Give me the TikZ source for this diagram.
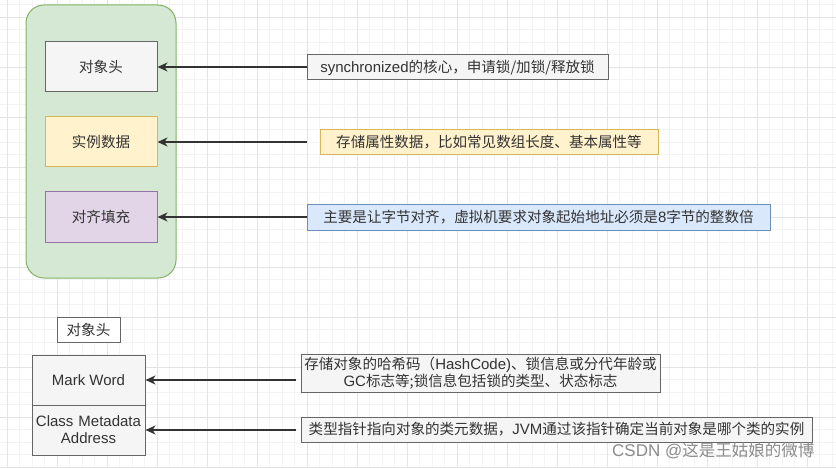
\documentclass[tikz,border=0pt]{standalone}
\usepackage{fontspec}
\setmainfont{Liberation Sans}
\newfontfamily\cjkfont[Scale=0.97]{Noto Sans CJK SC}
\newcommand{\zhs}[1]{{\cjkfont #1}}
\usetikzlibrary{arrows.meta}
\definecolor{gridminor}{HTML}{F3F3F3}
\definecolor{gridmajor}{HTML}{E4E4E4}
\definecolor{greyfill}{HTML}{F5F5F5}
\definecolor{greyline}{HTML}{666666}
\definecolor{greenfill}{HTML}{D5E8D4}
\definecolor{greenline}{HTML}{82B366}
\definecolor{yellowfill}{HTML}{FFF2CC}
\definecolor{yellowline}{HTML}{D6B656}
\definecolor{purplefill}{HTML}{E1D5E7}
\definecolor{purpleline}{HTML}{9673A6}
\definecolor{bluefill}{HTML}{DAE8FC}
\definecolor{blueline}{HTML}{6C8EBF}
\definecolor{txt}{HTML}{333333}
\tikzset{
  box/.style={draw, line width=1pt, rectangle, inner sep=0pt, text=txt,
    font=\fontsize{15}{18}\selectfont, align=center},
  greybox/.style={box, fill=greyfill, draw=greyline},
  yellowbox/.style={box, fill=yellowfill, draw=yellowline},
  purplebox/.style={box, fill=purplefill, draw=purpleline},
  bluebox/.style={box, fill=bluefill, draw=blueline},
  conn/.style={line width=1.3pt, draw=black!80, -{Stealth[length=10pt,width=9pt,inset=3pt]}},
}
\begin{document}
\begin{tikzpicture}[x=1pt,y=-1pt]
\useasboundingbox (0,0) rectangle (836,468);
\fill[white] (0,0) rectangle (836,468);
% grid
\foreach \i in {0,...,67} { \draw[gridminor, line width=0.8pt] ({-5.5+12.5*\i},0) -- ++(0,468); }
\foreach \j in {0,...,37} { \draw[gridminor, line width=0.8pt] (0,{4.5+12.5*\j}) -- ++(836,0); }
\foreach \i in {0,...,16} { \draw[gridmajor, line width=0.8pt] ({7+50*\i},0) -- ++(0,468); }
\foreach \j in {0,...,9} { \draw[gridmajor, line width=0.8pt] (0,{17+50*\j}) -- ++(836,0); }

% container
\node[draw=greenline, fill=greenfill, line width=1pt, rounded corners=18pt,
  minimum width=150pt, minimum height=273pt] (cont) at (101,141.5) {};

\node[greybox, minimum width=112pt, minimum height=50pt] (hdr) at (101,67) {\zhs{对象头}};
\node[yellowbox, minimum width=112pt, minimum height=50pt] (inst) at (101,142) {\zhs{实例数据}};
\node[purplebox, minimum width=112pt, minimum height=50pt] (pad) at (101,217) {\zhs{对齐填充}};

\node[greybox, minimum width=301pt, minimum height=25pt] (t1) at (457.5,67.5)
  {synchronized\zhs{的核心，申请锁/加锁/释放锁}};
\node[yellowbox, minimum width=338pt, minimum height=25pt] (t2) at (489,142.5)
  {\zhs{存储属性数据，比如常见数组长度、基本属性等}};
\node[bluebox, minimum width=463pt, minimum height=25pt] (t3) at (538.5,217.5)
  {\zhs{主要是让字节对齐，虚拟机要求对象起始地址必须是}8\zhs{字节的整数倍}};

\coordinate (s2) at (307,142);
\draw[conn] (t1.west |- hdr.east) -- (hdr.east);
\draw[conn] (s2) -- (inst.east);
\draw[conn] (t3.west |- pad.east) -- (pad.east);

% bottom part
\node[box, fill=white, draw=greyline, minimum width=63pt, minimum height=25pt] (lbl) at (88.5,329.5) {\zhs{对象头}};
\node[greybox, minimum width=113pt, minimum height=50pt] (mw) at (88.5,380) {Mark Word};
\node[greybox, minimum width=113pt, minimum height=50pt, text width=113pt] (cma) at (88.5,430) {Class Metadata\\[-1pt]Address};

\node[greybox, minimum width=359pt, minimum height=38pt, font=\fontsize{15}{17}\selectfont] (t4) at (480.5,373)
  {\zhs{存储对象的哈希码（}HashCode)\zhs{、锁信息或分代年龄或}\\GC\zhs{标志等;锁信息包括锁的类型、状态标志}};
\node[greybox, minimum width=511pt, minimum height=25pt] (t5) at (556.5,429.5)
  {\zhs{类型指针指向对象的类元数据，}JVM\zhs{通过该指针确定当前对象是哪个类的实例}};

\coordinate (s4) at (296,380);
\coordinate (s5) at (296,430);
\draw[conn] (s4) -- (mw.east);
\draw[conn] (s5) -- (cma.east);

\node[text=black!45, font=\fontsize{17}{19}\selectfont, anchor=west, inner sep=0pt] (wm) at (612,451) {CSDN @\zhs{这是王姑娘的微博}};
\end{tikzpicture}
\end{document}
